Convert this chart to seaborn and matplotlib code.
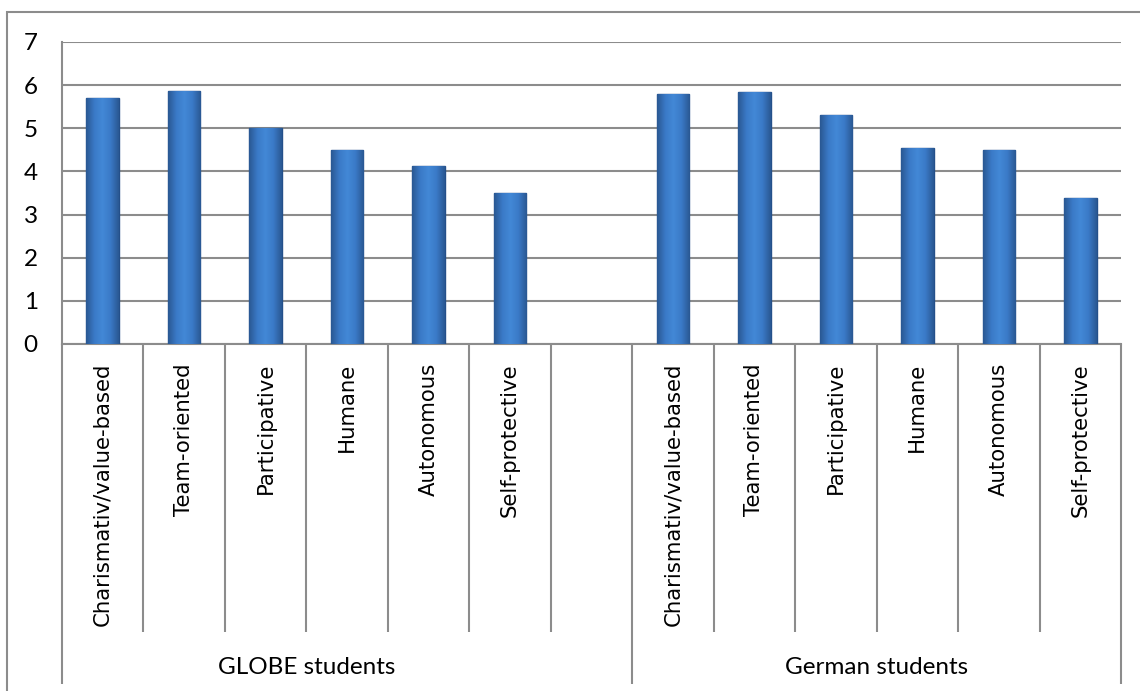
import numpy as np
import pandas as pd
import seaborn as sns
import matplotlib
matplotlib.use("Agg")
import matplotlib.pyplot as plt
from matplotlib.colors import LinearSegmentedColormap
from matplotlib.patches import Rectangle

# data
styles = ["Charismativ/value-based", "Team-oriented", "Participative",
          "Humane", "Autonomous", "Self-protective"]
groups = ["GLOBE students", "German students"]
globe_vals = [5.71, 5.87, 5.00, 4.50, 4.12, 3.49]
german_vals = [5.79, 5.84, 5.30, 4.54, 4.50, 3.39]

# one slot per bar, plus an empty slot between the groups
rows = []
for g, vals in zip(groups, [globe_vals, german_vals]):
    for s, v in zip(styles, vals):
        rows.append({"slot": g + "|" + s, "group": g, "style": s, "score": v})
df = pd.DataFrame(rows)
order = [groups[0] + "|" + s for s in styles] + ["gap"] + [groups[1] + "|" + s for s in styles]

sns.set_theme(style="white")
plt.rcParams["font.family"] = ["Lato", "DejaVu Sans"]

W, H = 1140, 691
fig = plt.figure(figsize=(W / 100, H / 100), dpi=100)
ax = fig.add_axes([62 / W, 1 - 344 / H, (1121 - 62) / W, (344 - 42) / H])

grey = "#8c8c8c"
ax.set_axisbelow(True)
ax.yaxis.grid(True, color=grey, lw=1.5)

sns.barplot(data=df, x="slot", y="score", order=order, color="#3b7bc6",
            width=0.4, edgecolor="#24508a", linewidth=1.0, ax=ax, zorder=3)

# horizontal shading inside each bar
cmap = LinearSegmentedColormap.from_list(
    "bar", ["#2a5893", "#3a7ac7", "#4388d6", "#3a7ac7", "#2a5893"])
grad = np.linspace(0, 1, 64).reshape(1, -1)
for p in list(ax.patches):
    x0, w, h = p.get_x(), p.get_width(), p.get_height()
    if h <= 0:
        continue
    im = ax.imshow(grad, extent=[x0, x0 + w, 0, h], cmap=cmap,
                   aspect="auto", zorder=3.5, interpolation="bicubic")
    im.set_clip_path(p)

ax.set_xlim(-0.5, len(order) - 0.5)
ax.set_ylim(0, 7)
ax.set_yticks(range(0, 8))
ax.set_xlabel("")
ax.set_ylabel("")

for side in ["top", "right"]:
    ax.spines[side].set_visible(False)
for side in ["left", "bottom"]:
    ax.spines[side].set_color(grey)
    ax.spines[side].set_linewidth(1.5)

ax.tick_params(axis="y", direction="out", length=6.5, width=1.5, color=grey,
               pad=11, labelsize=17.5, labelcolor="black")
ax.tick_params(axis="x", bottom=False, labelbottom=False)

# category labels and separators below the axis
ax_h = 344 - 42
xtr = ax.get_xaxis_transform()
labels = styles + [""] + styles
for i, lab in enumerate(labels):
    if lab:
        ax.text(i, -19 / ax_h, lab, transform=xtr, rotation=90, ha="center",
                va="top", fontsize=15.3, family="DejaVu Sans", color="black")
for b in np.arange(-0.5, len(order), 1.0):
    long_line = b in (-0.5, 6.5, 12.5)
    y_end = -(684 - 344) / ax_h if long_line else -(632 - 344) / ax_h
    ax.plot([b, b], [0, y_end], transform=xtr, color=grey, lw=1.5,
            clip_on=False, solid_capstyle="butt")
for g, c in zip(groups, [2.5, 9.5]):
    ax.text(c, -(667 - 344) / ax_h, g, transform=xtr, ha="center",
            va="center", fontsize=17.5, color="black")

# outer chart border
fig.patches.append(Rectangle((7 / W, -0.05), 1.1, 1 - 12 / H + 0.05,
                             transform=fig.transFigure, fill=False,
                             edgecolor=grey, lw=1.5))

fig.savefig("out.png", dpi=100)
